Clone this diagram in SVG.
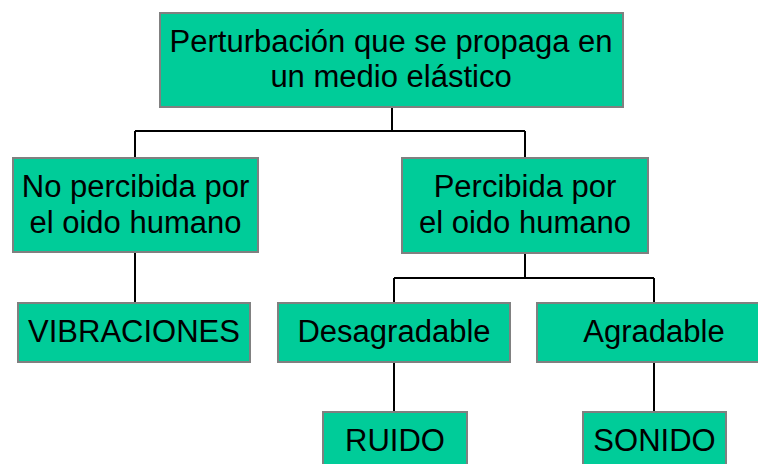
<svg xmlns="http://www.w3.org/2000/svg" width="758" height="464" viewBox="0 0 758 464">
<style>
.box{fill:#00CC99;stroke:#808080;stroke-width:2}
.t{font-family:"Liberation Sans",Arial,sans-serif;font-size:31px;fill:#000;text-anchor:middle}
.c{stroke:#000;stroke-width:2;fill:none}
</style>
<rect width="758" height="464" fill="#fff"/>
<g id="connectors">
<path class="c" d="M392,107V131M135,131H525M135,131V158M525,131V158"/>
<path class="c" d="M135,252V303"/>
<path class="c" d="M525,253V278M394,278H654M394,278V303M654,278V303"/>
<path class="c" d="M394,362V412M654,362V412"/>
</g>
<g id="perturbacion">
<rect class="box" x="160" y="13" width="463" height="94"/>
<text class="t" x="391" y="52">Perturbación que se propaga en</text>
<text class="t" x="391" y="87">un medio elástico</text>
</g>
<g id="no-percibida">
<rect class="box" x="13" y="158" width="245" height="94"/>
<text class="t" x="135.5" y="197">No percibida por</text>
<text class="t" x="135.5" y="233">el oido humano</text>
</g>
<g id="percibida">
<rect class="box" x="402" y="158" width="246" height="95"/>
<text class="t" x="525" y="197">Percibida por</text>
<text class="t" x="525" y="233">el oido humano</text>
</g>
<g id="vibraciones">
<rect class="box" x="18" y="303" width="232" height="59"/>
<text class="t" x="134" y="342">VIBRACIONES</text>
</g>
<g id="desagradable">
<rect class="box" x="278" y="303" width="232" height="59"/>
<text class="t" x="394" y="342">Desagradable</text>
</g>
<g id="agradable">
<rect class="box" x="537" y="303" width="232" height="59"/>
<text class="t" x="654" y="342">Agradable</text>
</g>
<g id="ruido">
<rect class="box" x="323" y="412" width="144" height="60"/>
<text class="t" x="395" y="451">RUIDO</text>
</g>
<g id="sonido">
<rect class="box" x="583" y="412" width="143" height="60"/>
<text class="t" x="654.5" y="451">SONIDO</text>
</g>
</svg>
